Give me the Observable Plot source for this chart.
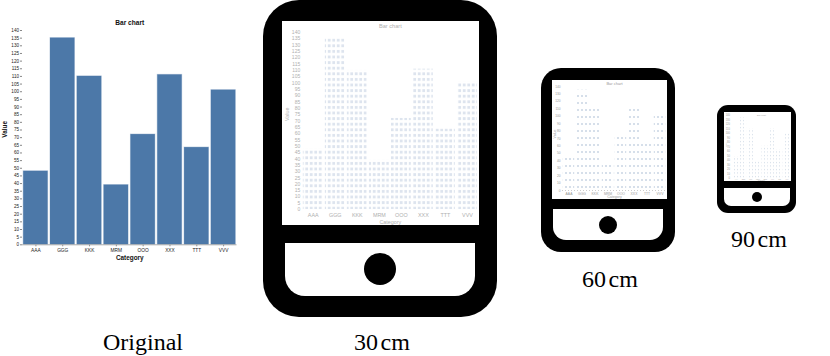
<!DOCTYPE html>
<html>
<head>
<meta charset="utf-8">
<script src="https://cdn.jsdelivr.net/npm/d3@7"></script>
<script src="https://cdn.jsdelivr.net/npm/@observablehq/plot@0.6"></script>
<style>
  html, body { margin: 0; padding: 0; background: #fff; }
  #root { position: relative; width: 830px; height: 356px; overflow: hidden; font-family: "Liberation Sans", Arial, sans-serif; }
  #root > * { position: absolute; }
  .shell { background: #000; }
  .pad { background: #fff; }
  .button { background: #000; border-radius: 50%; }
  .caption { font-family: "Liberation Serif", "Times New Roman", serif; font-size: 24px; line-height: 24px; color: #000; white-space: nowrap; transform: translateX(-50%); word-spacing: -3.5px; }
  svg { display: block; overflow: visible; }
</style>
</head>
<body>
<div id="root"></div>
<script>
// ---- chart data ----
const categories = ["AAA", "GGG", "KKK", "MRM", "OOO", "XXX", "TTT", "VVV"];
const values = [48, 135, 110, 39, 72, 111, 63.5, 101];
const valueTicks = [0, 5, 10, 15, 20, 25, 30, 35, 40, 45, 50, 55, 60, 65, 70, 75, 80, 85, 90, 95, 100, 105, 110, 115, 120, 125, 130, 135, 140];
const coarseTicks = [0, 10, 20, 30, 40, 50, 60, 70, 80, 90, 100, 110, 120, 130, 140];
const chartTitle = "Bar chart";
const xTitle = "Category";
const yTitle = "Value";
const captions = ["Original", "30 cm", "60 cm", "90 cm"];
const rows = categories.map((category, i) => ({category, value: values[i]}));

// ---- layout ----
const root = document.getElementById("root");
function box(cls, l, t, w, h, r) {
  const d = document.createElement("div");
  d.className = cls;
  d.style.cssText = `left:${l}px;top:${t}px;width:${w}px;height:${h}px;` + (r ? `border-radius:${r};` : "");
  root.appendChild(d);
  return d;
}
function tablet(o) {
  box("shell", o.x0, o.y0, o.x1 - o.x0, o.y1 - o.y0, o.r + "px");
  box("pad", o.sx0, o.sy0, o.sx1 - o.sx0, o.sy1 - o.sy0);
  box("pad", o.px0, o.py0, o.px1 - o.px0, o.py1 - o.py0, `0 0 ${o.pr}px ${o.pr}px`);
  box("button", o.bx - o.br, o.by - o.br, 2 * o.br, 2 * o.br);
}

function patternDefs(id, o) {
  return `<defs><pattern id="${id}" patternUnits="userSpaceOnUse" width="${o.w}" height="${o.h}">` +
    `<rect width="${o.w}" height="${o.h}" fill="${o.bg}"/>` +
    `<rect x="${o.dx}" y="${o.dy}" width="${o.dw}" height="${o.dh}" fill="${o.fill}"/></pattern></defs>`;
}

function drawChart(o) {
  const marks = [
    Plot.barY(rows, {x: "category", y: "value", fill: o.fill, stroke: o.stroke, strokeWidth: o.strokeWidth, strokeOpacity: o.strokeOpacity}),
    Plot.axisY({ticks: o.ticks, tickSize: o.tickSize, tickPadding: o.tickPadding, fontSize: o.tickFont, stroke: o.tickStroke, fill: o.textColor, label: null, tickFormat: d => d}),
    Plot.axisX({tickSize: o.tickSize, tickPadding: o.xTickPadding, fontSize: o.xTickFont, stroke: o.tickStroke, fill: o.textColor, label: null}),
    Plot.ruleY([0], {stroke: o.ruleColor, strokeWidth: o.ruleWidth, strokeDasharray: o.ruleDash}),
    Plot.text([chartTitle], {frameAnchor: "top", dy: o.titleDy, fontSize: o.titleFont, fontWeight: o.labelWeight, fill: o.labelColor}),
    Plot.text([xTitle], {frameAnchor: "bottom", dy: o.xLabelDy, fontSize: o.labelFont, fontWeight: o.labelWeight, fill: o.labelColor}),
    Plot.text([yTitle], {frameAnchor: "left", dx: o.yLabelDx, rotate: -90, fontSize: o.labelFont, fontWeight: o.labelWeight, fill: o.labelColor})
  ];
  const plot = Plot.plot({
    width: o.w, height: o.h,
    marginLeft: o.ml, marginRight: o.mr, marginTop: o.mt, marginBottom: o.mb,
    style: {background: "transparent", fontFamily: '"Liberation Sans", Arial, sans-serif', overflow: "visible"},
    x: {domain: categories, paddingInner: o.pi, paddingOuter: o.po, round: false, axis: null},
    y: {domain: [0, 140], axis: null},
    marks
  });
  if (o.pattern) plot.insertAdjacentHTML("afterbegin", patternDefs(o.pattern.id, o.pattern));
  plot.style.left = o.x + "px";
  plot.style.top = o.y + "px";
  plot.style.position = "absolute";
  root.appendChild(plot);
}

// ---- tablets ----
tablet({x0: 263, y0: 0, x1: 497, y1: 317, r: 36, sx0: 282, sy0: 21, sx1: 479, sy1: 225, px0: 285, py0: 243, px1: 475, py1: 296, pr: 20, bx: 380, by: 269, br: 16});
tablet({x0: 541, y0: 68, x1: 675, y1: 252, r: 20, sx0: 552, sy0: 80, sx1: 667, sy1: 199, px0: 553, py0: 209, px1: 663, py1: 240, pr: 13, bx: 608, by: 225, br: 9});
tablet({x0: 717, y0: 105, x1: 796, y1: 213, r: 11, sx0: 724, sy0: 112, sx1: 791, sy1: 181, px0: 724, py0: 188, px1: 790, py1: 206, pr: 7, bx: 757, by: 197, br: 5});

// ---- original chart ----
drawChart({
  x: 0, y: 0, w: 250, h: 270, ml: 22, mr: 13.5, mt: 30, mb: 25.7, pi: 0.09, po: 0.045,
  fill: "#4c78a8", stroke: "#4c78a8", strokeWidth: 1, strokeOpacity: 0.35,
  ticks: valueTicks, tickSize: 2, tickPadding: 1.5, tickFont: 4.6, xTickFont: 4.8, xTickPadding: 1.5, tickStroke: "#888", textColor: "#222",
  ruleColor: "#aaa", ruleWidth: 1,
  titleDy: -10.5, xLabelDy: 15.5, yLabelDx: -17.5, titleFont: 6.6, labelFont: 6.4, labelWeight: "bold", labelColor: "#111"
});

// ---- 30 cm ----
drawChart({
  x: 282, y: 21, w: 197, h: 204, ml: 19.7, mr: 1, mt: 11, mb: 16, pi: 0.1, po: 0.05,
  fill: "url(#dots30)", pattern: {id: "dots30", w: 4.5, h: 5.6, bg: "#fff", dx: 0.8, dy: 1, dw: 2.8, dh: 2.8, fill: "#dde4ee"},
  ticks: valueTicks, tickSize: 0, tickPadding: 2, tickFont: 5, xTickFont: 5.4, xTickPadding: 3.5, tickStroke: "none", textColor: "#b0b0b0",
  ruleColor: "none", ruleWidth: 0,
  titleDy: -8, xLabelDy: 14, yLabelDx: -15, titleFont: 5.6, labelFont: 5.4, labelWeight: "normal", labelColor: "#b0b0b0"
});

// ---- 60 cm ----
drawChart({
  x: 552, y: 80, w: 115, h: 119, ml: 10, mr: 1, mt: 6, mb: 9, pi: 0.12, po: 0.06,
  fill: "url(#dots60)", pattern: {id: "dots60", w: 4, h: 7, bg: "#fff", dx: 1, dy: 1, dw: 2, dh: 2, fill: "#d6dfea"},
  ticks: coarseTicks, tickSize: 0, tickPadding: 2, tickFont: 3.2, xTickFont: 3.4, xTickPadding: 2, tickStroke: "none", textColor: "#999",
  ruleColor: "#ccc", ruleWidth: 1, ruleDash: "1 2",
  titleDy: -4, xLabelDy: 7, yLabelDx: -7.5, titleFont: 4, labelFont: 3.6, labelWeight: "normal", labelColor: "#999"
});

// ---- 90 cm ----
drawChart({
  x: 724, y: 112, w: 67, h: 69, ml: 8, mr: 1, mt: 3, mb: 3, pi: 0.12, po: 0.06,
  fill: "url(#dots90)", pattern: {id: "dots90", w: 3, h: 3.5, bg: "#fff", dx: 1, dy: 1, dw: 1, dh: 1, fill: "#cfd9e6"},
  ticks: coarseTicks, tickSize: 0, tickPadding: 2.5, tickFont: 2.6, xTickFont: 1.5, xTickPadding: 0, tickStroke: "none", textColor: "#999",
  ruleColor: "none", ruleWidth: 0,
  titleDy: -1.5, xLabelDy: 2.1, yLabelDx: -6.5, titleFont: 2.2, labelFont: 1.8, labelWeight: "normal", labelColor: "#aaa"
});

// ---- captions ----
[[143, 330], [382, 330], [610, 267], [759, 227]].forEach(([cx, top], i) => {
  const d = document.createElement("div");
  d.className = "caption";
  d.textContent = captions[i];
  d.style.left = cx + "px";
  d.style.top = top + "px";
  root.appendChild(d);
});
</script>
</body>
</html>
